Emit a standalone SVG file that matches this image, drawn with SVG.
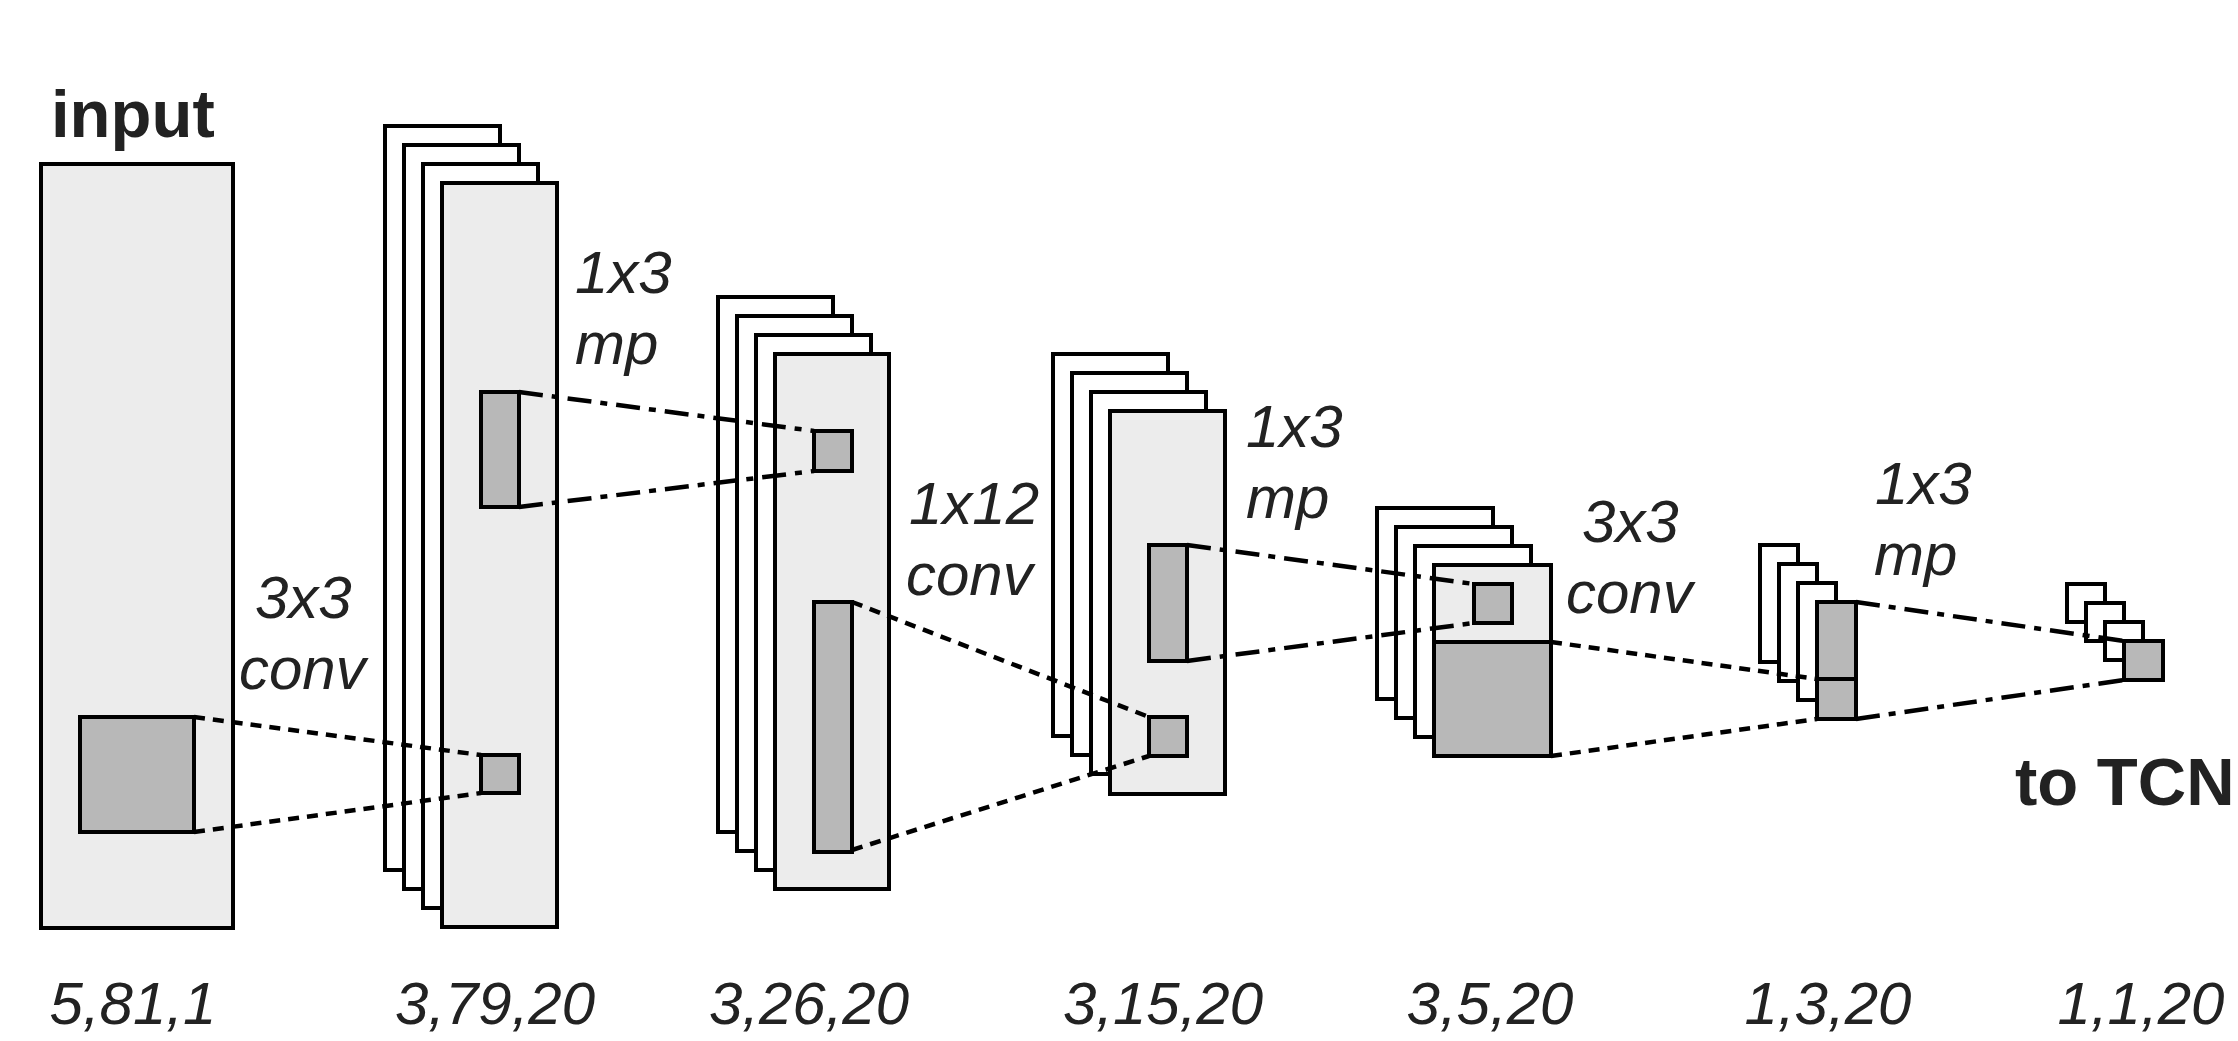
<svg xmlns="http://www.w3.org/2000/svg" width="2238" height="1041" viewBox="0 0 2238 1041">
<style>
.bg{fill:#ffffff}
.sheet{fill:#ffffff;stroke:#000;stroke-width:4}
.map{fill:#ececec;stroke:#000;stroke-width:4}
.kern{fill:#b8b8b8;stroke:#000;stroke-width:4}
.div{fill:none;stroke:#000;stroke-width:4}
.conv{fill:none;stroke:#000;stroke-width:4.5;stroke-dasharray:11 8}
.mp{fill:none;stroke:#000;stroke-width:4.5;stroke-dasharray:24 9 7 9}
.lab{font-family:"Liberation Sans",Arial,sans-serif;font-style:italic;font-size:60px;fill:#222}
.dim{font-family:"Liberation Sans",Arial,sans-serif;font-style:italic;font-size:60px;fill:#222;text-anchor:middle}
.title{font-family:"Liberation Sans",Arial,sans-serif;font-weight:bold;font-size:67px;fill:#222}
</style>
<rect class="bg" x="0" y="0" width="2238" height="1041"/>

<g id="input">
<rect class="map" x="41" y="164" width="192" height="764"/>
<rect class="kern" x="80" y="717" width="114" height="115"/>
<text class="title" x="51" y="137">input</text>
</g>

<g id="layer2">
<rect class="sheet" x="385" y="126" width="115" height="744"/>
<rect class="sheet" x="404" y="145" width="115" height="744"/>
<rect class="sheet" x="423" y="164" width="115" height="744"/>
<rect class="map" x="442" y="183" width="115" height="744"/>
<rect class="kern" x="481" y="392" width="38" height="115"/>
<rect class="kern" x="481" y="755" width="38" height="38"/>
</g>

<g id="layer3">
<rect class="sheet" x="718" y="297" width="115" height="535"/>
<rect class="sheet" x="737" y="316" width="115" height="535"/>
<rect class="sheet" x="756" y="335" width="115" height="535"/>
<rect class="map" x="775" y="354" width="114" height="535"/>
<rect class="kern" x="814" y="431" width="38" height="40"/>
<rect class="kern" x="814" y="602" width="38" height="250"/>
</g>

<g id="layer4">
<rect class="sheet" x="1053" y="354" width="115" height="382"/>
<rect class="sheet" x="1072" y="373" width="115" height="382"/>
<rect class="sheet" x="1091" y="392" width="115" height="382"/>
<rect class="map" x="1110" y="411" width="115" height="383"/>
<rect class="kern" x="1149" y="545" width="38" height="116"/>
<rect class="kern" x="1149" y="717" width="38" height="39"/>
</g>

<g id="layer5">
<rect class="sheet" x="1377" y="508" width="116" height="191"/>
<rect class="sheet" x="1396" y="527" width="116" height="191"/>
<rect class="sheet" x="1415" y="546" width="116" height="191"/>
<rect class="map" x="1434" y="565" width="117" height="191"/>
<rect class="kern" x="1434" y="642" width="117" height="114"/>
<rect class="kern" x="1474" y="584" width="38" height="39"/>
</g>

<g id="layer6">
<rect class="sheet" x="1760" y="545" width="38" height="117"/>
<rect class="sheet" x="1779" y="564" width="38" height="117"/>
<rect class="sheet" x="1798" y="583" width="38" height="117"/>
<rect class="kern" x="1817" y="602" width="39" height="117"/>
<line class="div" x1="1817" y1="679" x2="1856" y2="679"/>
</g>

<g id="layer7">
<rect class="sheet" x="2067" y="584" width="38" height="38"/>
<rect class="sheet" x="2086" y="603" width="38" height="38"/>
<rect class="sheet" x="2105" y="622" width="38" height="38"/>
<rect class="kern" x="2124" y="641" width="39" height="39"/>
<text class="title" x="2015" y="805">to TCN</text>
</g>

<g id="connectors">
<line class="conv" x1="194" y1="717" x2="481" y2="755"/>
<line class="conv" x1="194" y1="832" x2="481" y2="793"/>
<line class="mp" x1="519" y1="392" x2="814" y2="431"/>
<line class="mp" x1="519" y1="507" x2="814" y2="471"/>
<line class="conv" x1="852" y1="602" x2="1149" y2="717"/>
<line class="conv" x1="852" y1="850" x2="1149" y2="756"/>
<line class="mp" x1="1187" y1="545" x2="1474" y2="584"/>
<line class="mp" x1="1187" y1="661" x2="1474" y2="623"/>
<line class="conv" x1="1551" y1="642" x2="1817" y2="679"/>
<line class="conv" x1="1551" y1="756" x2="1817" y2="719"/>
<line class="mp" x1="1856" y1="602" x2="2124" y2="641"/>
<line class="mp" x1="1856" y1="719" x2="2124" y2="680"/>
</g>

<g id="labels">
<text class="lab" x="255" y="618">3x3</text>
<text class="lab" x="239" y="689">conv</text>
<text class="lab" x="575" y="293">1x3</text>
<text class="lab" x="575" y="364">mp</text>
<text class="lab" x="909" y="524">1x12</text>
<text class="lab" x="906" y="595">conv</text>
<text class="lab" x="1246" y="447">1x3</text>
<text class="lab" x="1246" y="518">mp</text>
<text class="lab" x="1582" y="542">3x3</text>
<text class="lab" x="1566" y="613">conv</text>
<text class="lab" x="1875" y="504">1x3</text>
<text class="lab" x="1874" y="575">mp</text>
</g>

<g id="dims">
<text class="dim" x="133" y="1024">5,81,1</text>
<text class="dim" x="495" y="1024">3,79,20</text>
<text class="dim" x="809" y="1024">3,26,20</text>
<text class="dim" x="1163" y="1024">3,15,20</text>
<text class="dim" x="1490" y="1024">3,5,20</text>
<text class="dim" x="1828" y="1024">1,3,20</text>
<text class="dim" x="2141" y="1024">1,1,20</text>
</g>
</svg>
